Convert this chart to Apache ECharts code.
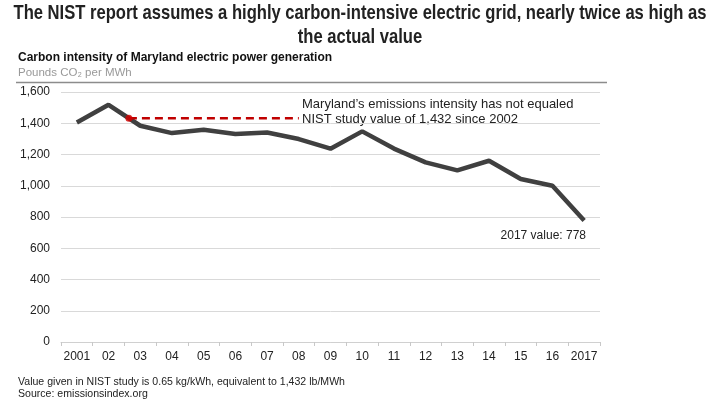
<!DOCTYPE html>
<html><head><meta charset="utf-8">
<script src="https://cdn.jsdelivr.net/npm/echarts@6/dist/echarts.min.js"></script>
<style>html,body{margin:0;padding:0;background:#fff}#c{width:720px;height:405px}</style>
</head><body><div id="c"></div>
<script>
var years = ['2001','02','03','04','05','06','07','08','09','10','11','12','13','14','15','16','2017'];
var intensity = [1405, 1518, 1384, 1337, 1359, 1331, 1341, 1299, 1237, 1348, 1238, 1150, 1098, 1160, 1043, 1000, 778];
var nistValue = 1432;
var nistEndIndex = 7;
var yTicks = [0, 200, 400, 600, 800, 1000, 1200, 1400, 1600];

var titleLines = ['The NIST report assumes a highly carbon-intensive electric grid, nearly twice as high as', 'the actual value'];
var footLines = ['Value given in NIST study is 0.65 kg/kWh, equivalent to 1,432 lb/MWh', 'Source: emissionsindex.org'];

// crossing point of the series with the NIST value (between 2002 and 2003)
var i0 = 1;
var cross = i0 + (intensity[i0] - nistValue) / (intensity[i0] - intensity[i0 + 1]);

// condensed look: measure the text and squeeze horizontally
var mctx = document.createElement('canvas').getContext('2d');
var titleFont = 'bold 21px "Liberation Sans", Arial, sans-serif';
mctx.font = titleFont;
var titleScale = 693 / mctx.measureText(titleLines[0]).width;
var footFont = '11px "Liberation Sans", Arial, sans-serif';
mctx.font = footFont;
var footScale = 327 / mctx.measureText(footLines[0]).width;

var chart = echarts.init(document.getElementById('c'));
var F = '"Liberation Sans", Arial, sans-serif';
chart.setOption({
  animation: false,
  backgroundColor: '#fff',
  title: [
    {text: 'Carbon intensity of Maryland electric power generation', left: 18, top: 52, padding: 0,
     textStyle: {fontFamily: F, fontWeight: 'bold', fontSize: 12, color: '#111'}},
    {text: 'Pounds CO₂ per MWh', left: 18, top: 67, padding: 0,
     textStyle: {fontFamily: F, fontWeight: 'normal', fontSize: 11.5, color: '#999'}}
  ],
  graphic: [
    {type: 'text', x: 360, y: 13, scaleX: titleScale, style: {text: titleLines[0], font: titleFont, fill: '#222', textAlign: 'center', textVerticalAlign: 'middle'}},
    {type: 'text', x: 360, y: 37, scaleX: titleScale, style: {text: titleLines[1], font: titleFont, fill: '#222', textAlign: 'center', textVerticalAlign: 'middle'}},
    {type: 'text', x: 18, y: 382, scaleX: footScale, style: {text: footLines[0], font: footFont, fill: '#222', textVerticalAlign: 'middle'}},
    {type: 'text', x: 18, y: 394, scaleX: footScale, style: {text: footLines[1], font: footFont, fill: '#222', textVerticalAlign: 'middle'}},
    {type: 'line', shape: {x1: 16, y1: 82.5, x2: 607, y2: 82.5}, style: {stroke: '#8c8c8c', lineWidth: 1.5}},
    {type: 'text', left: 302, top: 97, style: {text: 'Maryland’s emissions intensity has not equaled\nNIST study value of 1,432 since 2002',
      font: '13px "Liberation Sans", Arial, sans-serif', fill: '#222', lineHeight: 15}},
    {type: 'text', right: 720 - 586, top: 230, style: {text: '2017 value: ' + intensity[intensity.length - 1],
      font: '12px "Liberation Sans", Arial, sans-serif', fill: '#222', textAlign: 'right'}}
  ],
  grid: {left: 61, right: 120, top: 92, bottom: 63},
  xAxis: [
    {type: 'category', data: years, boundaryGap: true,
     axisLine: {lineStyle: {color: '#d0d0d0'}},
     axisTick: {show: true, length: 4, lineStyle: {color: '#c8c8c8'}},
     axisLabel: {color: '#222', fontFamily: F, fontSize: 12, margin: 9, interval: 0}},
    {type: 'value', min: -0.5, max: years.length - 0.5, show: false}
  ],
  yAxis: {type: 'value', min: yTicks[0], max: yTicks[yTicks.length - 1], interval: 200,
    axisLine: {show: false}, axisTick: {show: false},
    splitLine: {lineStyle: {color: '#d9d9d9'}},
    axisLabel: {color: '#222', fontFamily: F, fontSize: 12, margin: 11,
      formatter: function (v) { return v.toLocaleString('en-US'); }}},
  series: [
    {type: 'line', data: intensity, xAxisIndex: 0, symbol: 'none', z: 3,
     lineStyle: {color: '#404040', width: 4.5}},
    {type: 'line', xAxisIndex: 1, data: [[cross, nistValue], [nistEndIndex, nistValue]], symbol: 'none', z: 4,
     lineStyle: {color: '#c00000', width: 2.5, type: [8, 5]}},
    {type: 'scatter', xAxisIndex: 1, data: [[cross, nistValue]], symbolSize: 7, z: 5,
     itemStyle: {color: '#d40000'}}
  ]
});
</script></body></html>
